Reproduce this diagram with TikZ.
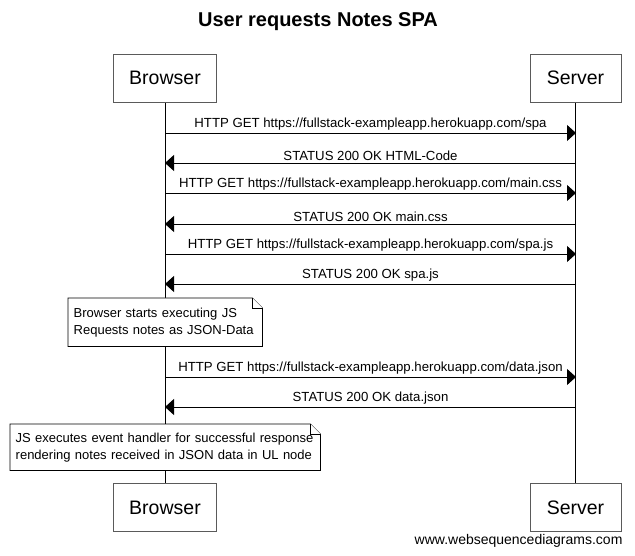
\documentclass[tikz,border=0pt]{standalone}
\usepackage{fontspec}
\setmainfont{Liberation Sans}
\usetikzlibrary{calc,arrows.meta,backgrounds}
\definecolor{ink}{HTML}{000000}
\definecolor{frame}{HTML}{5A5A5A}
\tikzset{
  actor/.style={draw=frame, line width=0.9pt, minimum width=103pt, minimum height=48pt, inner sep=0pt, font=\fontsize{19.5}{23}\selectfont},
  life/.style={draw=ink, line width=0.9pt},
  msg/.style={draw=ink, line width=0.9pt, -{Triangle[length=9pt,width=16pt]}},
  lbl/.style={font=\fontsize{13.2}{15}\selectfont, anchor=south, inner sep=2.3pt},
  note/.style={align=left, anchor=north west, inner xsep=5.5pt, inner ysep=0pt, font=\fontsize{13}{17}\selectfont},
  fold/.style={draw=ink, line width=0.8pt, fill=white}
}

\begin{document}
\begin{tikzpicture}[x=1pt,y=-1pt]
\useasboundingbox (0,0) rectangle (635,556);

\node[font=\bfseries\fontsize{20}{24}\selectfont] (title) at (318,22) {User requests Notes SPA};

\node[actor] (browser) at (165,78) {Browser};
\node[actor, minimum width=91pt] (server) at (575.5,78) {Server};
\node[actor] (browserEnd) at (165,507.5) {Browser};
\node[actor, minimum width=91pt] (serverEnd) at (575.5,507.5) {Server};

\coordinate (b1) at (165,133); \coordinate (s1) at (576,133);
\coordinate (b2) at (165,163); \coordinate (s2) at (576,163);
\coordinate (b3) at (165,193); \coordinate (s3) at (576,193);
\coordinate (b4) at (165,224); \coordinate (s4) at (576,224);
\coordinate (b5) at (165,254); \coordinate (s5) at (576,254);
\coordinate (b6) at (165,284); \coordinate (s6) at (576,284);
\coordinate (b7) at (165,377); \coordinate (s7) at (576,377);
\coordinate (b8) at (165,407); \coordinate (s8) at (576,407);

\draw[msg] (b1) -- node[lbl] {HTTP GET https://fullstack-exampleapp.herokuapp.com/spa} (s1);
\draw[msg] (s2) -- node[lbl] {STATUS 200 OK HTML-Code} (b2);
\draw[msg] (b3) -- node[lbl] {HTTP GET https://fullstack-exampleapp.herokuapp.com/main.css} (s3);
\draw[msg] (s4) -- node[lbl] {STATUS 200 OK main.css} (b4);
\draw[msg] (b5) -- node[lbl] {HTTP GET https://fullstack-exampleapp.herokuapp.com/spa.js} (s5);
\draw[msg] (s6) -- node[lbl] {STATUS 200 OK spa.js} (b6);
\draw[msg] (b7) -- node[lbl] {HTTP GET https://fullstack-exampleapp.herokuapp.com/data.json} (s7);
\draw[msg] (s8) -- node[lbl] {STATUS 200 OK data.json} (b8);

% notes on the browser lifeline
\node[note, text width=183pt, minimum height=48pt] (note1) at (68,298)
  {\mbox{Browser starts executing JS}\\\mbox{Requests notes as JSON-Data}};
\node[note, text width=299pt, minimum height=46pt] (note2) at (10,424)
  {\mbox{JS executes event handler for successful response}\\\mbox{rendering notes received in JSON data in UL node}};

\node[font=\fontsize{14}{16}\selectfont, anchor=east] (site) at (626,541) {www.websequencediagrams.com};

\begin{scope}[on background layer]
\fill[white] (0,0) rectangle (635,556);
\draw[life] (browser.south) -- (browserEnd.north);
\draw[life] (server.south) -- (serverEnd.north);
\draw[fold] (note1.north west) -- ($(note1.north east)+(-10,0)$) -- ($(note1.north east)+(0,10)$) -- (note1.south east) -- (note1.south west) -- cycle;
\draw[fold] ($(note1.north east)+(-10,0)$) -- ($(note1.north east)+(-10,10)$) -- ($(note1.north east)+(0,10)$);
\draw[fold] (note2.north west) -- ($(note2.north east)+(-10,0)$) -- ($(note2.north east)+(0,10)$) -- (note2.south east) -- (note2.south west) -- cycle;
\draw[fold] ($(note2.north east)+(-10,0)$) -- ($(note2.north east)+(-10,10)$) -- ($(note2.north east)+(0,10)$);
\end{scope}
\end{tikzpicture}
\end{document}
